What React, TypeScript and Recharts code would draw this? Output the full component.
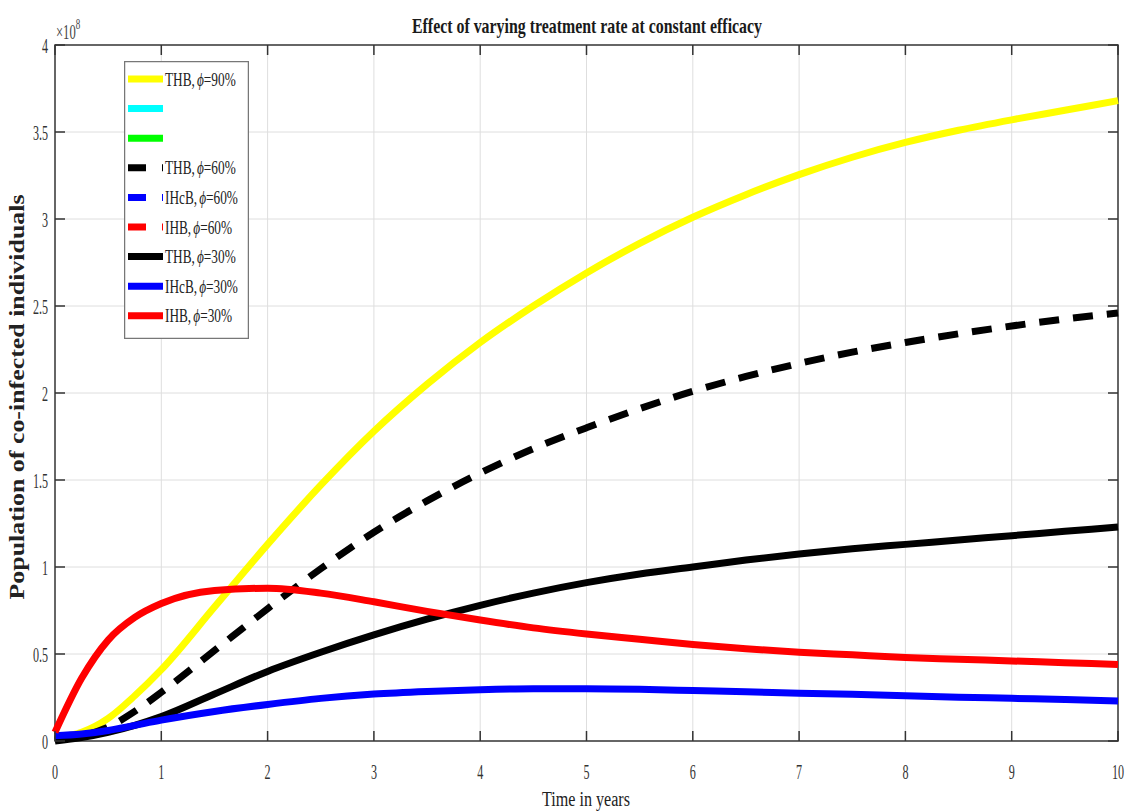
import React from 'react';
import { LineChart, Line, XAxis, YAxis, CartesianGrid, ReferenceArea, Legend } from 'recharts';

// time in years
const TIME = [0, 0.25, 0.5, 0.75, 1, 1.5, 2, 2.5, 3, 3.5, 4, 4.5, 5, 5.5, 6, 6.5, 7, 7.5, 8, 8.5, 9, 9.5, 10];

// populations in units of 1e8
const THB_90 = [0.02, 0.05, 0.13, 0.26, 0.41, 0.77, 1.13, 1.47, 1.78, 2.05, 2.29, 2.5, 2.69, 2.86, 3.01, 3.14, 3.255, 3.355, 3.44, 3.51, 3.57, 3.625, 3.68];
const THB_60 = [0.01, 0.03, 0.08, 0.17, 0.28, 0.52, 0.76, 0.99, 1.2, 1.38, 1.54, 1.68, 1.8, 1.91, 2.01, 2.095, 2.17, 2.235, 2.29, 2.34, 2.385, 2.425, 2.46];
const THB_30 = [0.0, 0.02, 0.05, 0.09, 0.14, 0.27, 0.4, 0.51, 0.61, 0.7, 0.78, 0.85, 0.91, 0.96, 1.0, 1.04, 1.075, 1.105, 1.13, 1.155, 1.18, 1.205, 1.23];
const IHCB_30 = [0.03, 0.04, 0.06, 0.09, 0.12, 0.17, 0.21, 0.245, 0.27, 0.285, 0.295, 0.3, 0.3, 0.297, 0.29, 0.283, 0.275, 0.268, 0.26, 0.252, 0.245, 0.238, 0.23];
const IHB_30 = [0.05, 0.36, 0.58, 0.71, 0.79, 0.865, 0.878, 0.85, 0.8, 0.745, 0.695, 0.65, 0.615, 0.585, 0.555, 0.53, 0.51, 0.495, 0.48, 0.47, 0.46, 0.45, 0.44];

const X_TICKS = [0, 1, 2, 3, 4, 5, 6, 7, 8, 9, 10];
const Y_TICKS = [0, 0.5, 1, 1.5, 2, 2.5, 3, 3.5, 4];

// legend rows: name, percentage, colour, dashed
const LEGEND_NAMES = ['THB', '', '', 'THB', 'IHcB', 'IHB', 'THB', 'IHcB', 'IHB'];
const LEGEND_PCT = ['90%', '', '', '60%', '60%', '60%', '30%', '30%', '30%'];
const LEGEND_COLORS = ['#ffff00', '#00ffff', '#00ff00', '#000000', '#0000ff', '#ff0000', '#000000', '#0000ff', '#ff0000'];
const LEGEND_DASHED = [false, false, false, true, true, true, false, false, false];

const data = TIME.map((t, i) => ({
  t,
  thb90: THB_90[i],
  thb60: THB_60[i],
  thb30: THB_30[i],
  ihcb30: IHCB_30[i],
  ihb30: IHB_30[i],
}));

const W = 1129;
const H = 812;
const TOP = 45;
const BOTTOM = 741;
const LEFT = 55;
const RIGHT = 1118;
const SERIF = '"Liberation Serif", "DejaVu Serif", serif';

const XTick = ({ x, payload }: any) => (
  <g>
    <line x1={x} x2={x} y1={BOTTOM} y2={BOTTOM - 10} stroke="#333" strokeWidth={1.5} />
    <line x1={x} x2={x} y1={TOP} y2={TOP + 10} stroke="#333" strokeWidth={1.5} />
    <text
      transform={`translate(${x} 771) scale(0.55 1)`}
      textAnchor="middle"
      dy="0.35em"
      fontFamily={SERIF}
      fontSize={22}
      fill="#333"
    >
      {payload.value}
    </text>
  </g>
);

const YTick = ({ y, payload }: any) => (
  <g>
    <line x1={LEFT} x2={LEFT + 10} y1={y} y2={y} stroke="#333" strokeWidth={1.5} />
    <line x1={RIGHT} x2={RIGHT - 10} y1={y} y2={y} stroke="#333" strokeWidth={1.5} />
    <text
      transform={`translate(48 ${y}) scale(0.55 1)`}
      textAnchor="end"
      dy="0.35em"
      fontFamily={SERIF}
      fontSize={22}
      fill="#333"
    >
      {payload.value}
    </text>
  </g>
);

const LegendBox = () => (
  <svg width={125} height={278} style={{ display: 'block' }}>
    <rect x={0.5} y={0.5} width={124} height={277} fill="#fff" stroke="#777" strokeWidth={1.5} />
    {LEGEND_COLORS.map((color, i) => {
      const y = 18 + i * 29.6;
      return (
        <g key={i}>
          <line
            x1={4}
            x2={39}
            y1={y}
            y2={y}
            stroke={color}
            strokeWidth={7}
            strokeDasharray={LEGEND_DASHED[i] ? '18 16' : undefined}
          />
          {LEGEND_NAMES[i] && (
            <text
              transform={`translate(41 ${y}) scale(0.7 1)`}
              dy="0.35em"
              fontFamily={SERIF}
              fontSize={19}
              fill="#222"
            >
              {LEGEND_NAMES[i]},<tspan fontStyle="italic" dx={3}>ϕ</tspan>={LEGEND_PCT[i]}
            </text>
          )}
        </g>
      );
    })}
  </svg>
);

export default function App() {
  return (
    <div style={{ position: 'absolute', left: 0, top: 0, width: W, height: H, background: '#fff' }}>
      <LineChart width={W} height={H} data={data} margin={{ top: TOP, right: W - RIGHT, bottom: 0, left: 0 }}>
        <CartesianGrid stroke="#dedede" strokeWidth={1} />
        <XAxis
          dataKey="t"
          type="number"
          domain={[0, 10]}
          ticks={X_TICKS}
          height={H - BOTTOM}
          tick={<XTick />}
          tickLine={false}
          axisLine={false}
          interval={0}
        />
        <YAxis
          type="number"
          domain={[0, 4]}
          ticks={Y_TICKS}
          width={LEFT}
          tick={<YTick />}
          tickLine={false}
          axisLine={false}
          interval={0}
        />
        <ReferenceArea x1={0} x2={10} y1={0} y2={4} fill="none" stroke="#3a3a3a" strokeWidth={1.5} fillOpacity={0} />
        <Line type="monotone" dataKey="thb90" stroke="#ffff00" strokeWidth={7} dot={false} isAnimationActive={false} />
        <Line type="monotone" dataKey="thb60" stroke="#000" strokeWidth={7} strokeDasharray="20 14" dot={false} isAnimationActive={false} />
        <Line type="monotone" dataKey="thb30" stroke="#000" strokeWidth={7} dot={false} isAnimationActive={false} />
        <Line type="monotone" dataKey="ihcb30" stroke="#0000ff" strokeWidth={7} dot={false} isAnimationActive={false} />
        <Line type="monotone" dataKey="ihb30" stroke="#ff0000" strokeWidth={7} dot={false} isAnimationActive={false} />
        <Legend
          layout="vertical"
          align="center"
          verticalAlign="middle"
          content={() => <LegendBox />}
          wrapperStyle={{ left: 124, top: 61, width: 125, height: 278 }}
        />
      </LineChart>
      <svg width={W} height={H} style={{ position: 'absolute', left: 0, top: 0, pointerEvents: 'none' }}>
        <text x={587} y={33} textAnchor="middle" fontFamily={SERIF} fontWeight="bold" fontSize={21} textLength={350} lengthAdjust="spacingAndGlyphs" fill="#1a1a1a">
          Effect of varying treatment rate at constant efficacy
        </text>
        <text transform="translate(56 39) scale(0.6 1)" fontFamily={SERIF} fontSize={21} fill="#444">
          ×10<tspan dy={-10} fontSize={15}>8</tspan>
        </text>
        <text x={586} y={806} textAnchor="middle" fontFamily={SERIF} fontSize={20} textLength={88} lengthAdjust="spacingAndGlyphs" fill="#222">
          Time in years
        </text>
        <text
          transform="translate(24 397) rotate(-90)"
          textAnchor="middle"
          fontFamily={SERIF}
          fontWeight="bold"
          fontSize={20}
          textLength={405}
          lengthAdjust="spacingAndGlyphs"
          fill="#222"
        >
          Population of co-infected individuals
        </text>
      </svg>
    </div>
  );
}
